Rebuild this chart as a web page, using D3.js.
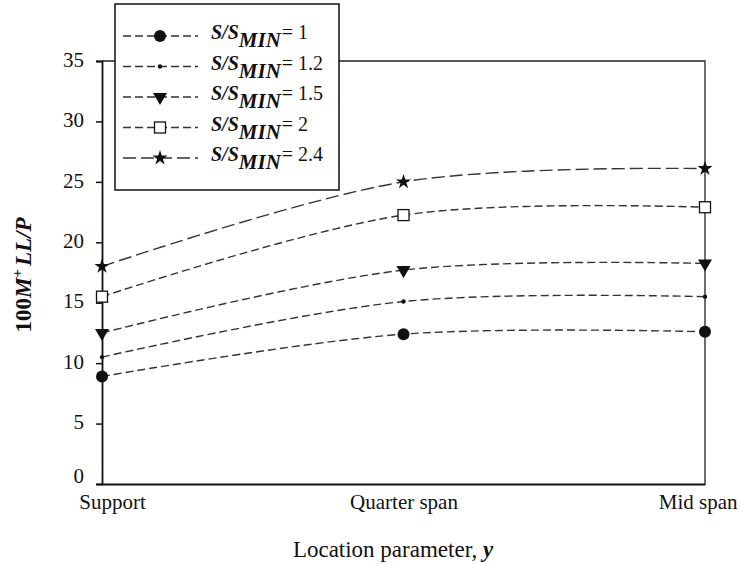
<!DOCTYPE html>
<html>
<head>
<meta charset="utf-8">
<script src="https://cdn.jsdelivr.net/npm/d3@7"></script>
<style>
  body { margin: 0; background: #fff; }
  svg text { font-family: "Times New Roman", "Liberation Serif", "DejaVu Serif", serif; }
</style>
</head>
<body>
<svg id="chart" width="740" height="564"></svg>
<script>
// chart data
const categories = ["Support", "Quarter span", "Mid span"];
const yTicks = [0, 5, 10, 15, 20, 25, 30, 35];
const ratios = ["1", "1.2", "1.5", "2", "2.4"];
const ratio1 = [8.9, 12.4, 12.6];
const ratio12 = [10.5, 15.1, 15.5];
const ratio15 = [12.5, 17.7, 18.25];
const ratio2 = [15.5, 22.25, 22.9];
const ratio24 = [18.0, 25.0, 26.1];

const series = [
  { label: ratios[0], values: ratio1, marker: "circle", dash: "8,4" },
  { label: ratios[1], values: ratio12, marker: "dot", dash: "8,4" },
  { label: ratios[2], values: ratio15, marker: "triangle", dash: "8,4" },
  { label: ratios[3], values: ratio2, marker: "square", dash: "8,4" },
  { label: ratios[4], values: ratio24, marker: "star", dash: "13,5" }
];

const svg = d3.select("#chart");
const plotLeft = 102, plotRight = 705, plotTop = 61, plotBottom = 484;

const x = d3.scalePoint().domain(categories).range([plotLeft, plotRight]);
const y = d3.scaleLinear().domain([0, 35]).range([plotBottom, plotTop]);

// plot frame (top and right)
svg.append("path")
  .attr("d", `M${plotLeft},${plotTop}H${plotRight}V${plotBottom}`)
  .attr("fill", "none").attr("stroke", "#222").attr("stroke-width", 1.3);

// y axis
const yAxis = svg.append("g")
  .attr("transform", `translate(${plotLeft},0)`)
  .call(d3.axisLeft(y).tickValues(yTicks).tickSize(6).tickPadding(12));
yAxis.attr("font-family", null);
yAxis.select(".domain").attr("stroke", "#111").attr("stroke-width", 1.8);
yAxis.selectAll(".tick line").attr("stroke", "#111").attr("stroke-width", 1.5);
yAxis.selectAll(".tick text")
  .attr("font-size", 21).attr("fill", "#111")
  .attr("dy", d => d === 0 ? "-0.05em" : "0.25em");

// x axis
const xAxis = svg.append("g")
  .attr("transform", `translate(0,${plotBottom})`)
  .call(d3.axisBottom(x).tickSize(0).tickPadding(9));
xAxis.attr("font-family", null);
xAxis.select(".domain").attr("stroke", "#111").attr("stroke-width", 1.8);
xAxis.selectAll(".tick text")
  .attr("font-size", 21).attr("fill", "#111")
  .attr("dy", "0.75em")
  .each(function (d) {
    // keep end labels inside the figure like the original
    if (d === "Support") d3.select(this).attr("x", 10);
    if (d === "Mid span") d3.select(this).attr("text-anchor", "end").attr("x", 32);
  });

// series lines
const line = d3.line()
  .x((d, i) => x(categories[i]))
  .y(d => y(d))
  .curve(d3.curveCardinal.tension(0));

const star = d3.symbol().type(d3.symbolStar).size(70)();
const tri = d3.symbol().type(d3.symbolTriangle).size(85)();

function drawMarker(g, type) {
  if (type === "circle") g.append("circle").attr("r", 6).attr("fill", "#111");
  if (type === "dot") g.append("circle").attr("r", 2.2).attr("fill", "#111");
  if (type === "triangle") g.append("path").attr("d", tri).attr("transform", "rotate(180)").attr("fill", "#111");
  if (type === "square") g.append("rect").attr("x", -5.5).attr("y", -5.5).attr("width", 11).attr("height", 11)
    .attr("fill", "#fff").attr("stroke", "#111").attr("stroke-width", 1.3);
  if (type === "star") g.append("path").attr("d", star).attr("fill", "#111");
}

series.forEach(s => {
  svg.append("path")
    .attr("d", line(s.values))
    .attr("fill", "none")
    .attr("stroke", "#333")
    .attr("stroke-width", 1.4)
    .attr("stroke-dasharray", s.dash);
  s.values.forEach((v, i) => {
    const g = svg.append("g").attr("transform", `translate(${x(categories[i])},${y(v)})`);
    drawMarker(g, s.marker);
  });
});

// legend
const legend = svg.append("g");
legend.append("rect")
  .attr("x", 115).attr("y", 4).attr("width", 224).attr("height", 186)
  .attr("fill", "#fff").attr("stroke", "#111").attr("stroke-width", 1.5);

series.forEach((s, i) => {
  const ry = 36 + i * 30.5;
  legend.append("line")
    .attr("x1", 123).attr("x2", 198).attr("y1", ry).attr("y2", ry)
    .attr("stroke", "#333").attr("stroke-width", 1.4).attr("stroke-dasharray", s.dash);
  drawMarker(legend.append("g").attr("transform", `translate(160,${ry})`), s.marker);
  const t = legend.append("text")
    .attr("x", 211).attr("y", ry + 3)
    .attr("font-size", 20).attr("fill", "#111");
  t.append("tspan").attr("font-weight", "bold").attr("font-style", "italic").text("S/S");
  t.append("tspan").attr("font-weight", "bold").attr("font-style", "italic")
    .attr("font-size", 21).attr("dy", 8).text("MIN");
  t.append("tspan").attr("dy", -8).attr("dx", 1).text("= " + s.label);
});

// axis titles
svg.append("text")
  .attr("x", 393).attr("y", 557)
  .attr("text-anchor", "middle")
  .attr("font-size", 23).attr("fill", "#111")
  .call(t => {
    t.append("tspan").text("Location parameter, ");
    t.append("tspan").attr("font-weight", "bold").attr("font-style", "italic").text("y");
  });

svg.append("text")
  .attr("transform", "translate(31,275) rotate(-90)")
  .attr("text-anchor", "middle")
  .attr("font-size", 23).attr("font-weight", "bold").attr("fill", "#111")
  .call(t => {
    t.append("tspan").text("100");
    t.append("tspan").attr("font-style", "italic").text("M");
    t.append("tspan").attr("font-size", 15).attr("dy", -9).text("+");
    t.append("tspan").attr("font-style", "italic").attr("dy", 9).attr("dx", 3).text("LL/P");
  });
</script>
</body>
</html>
